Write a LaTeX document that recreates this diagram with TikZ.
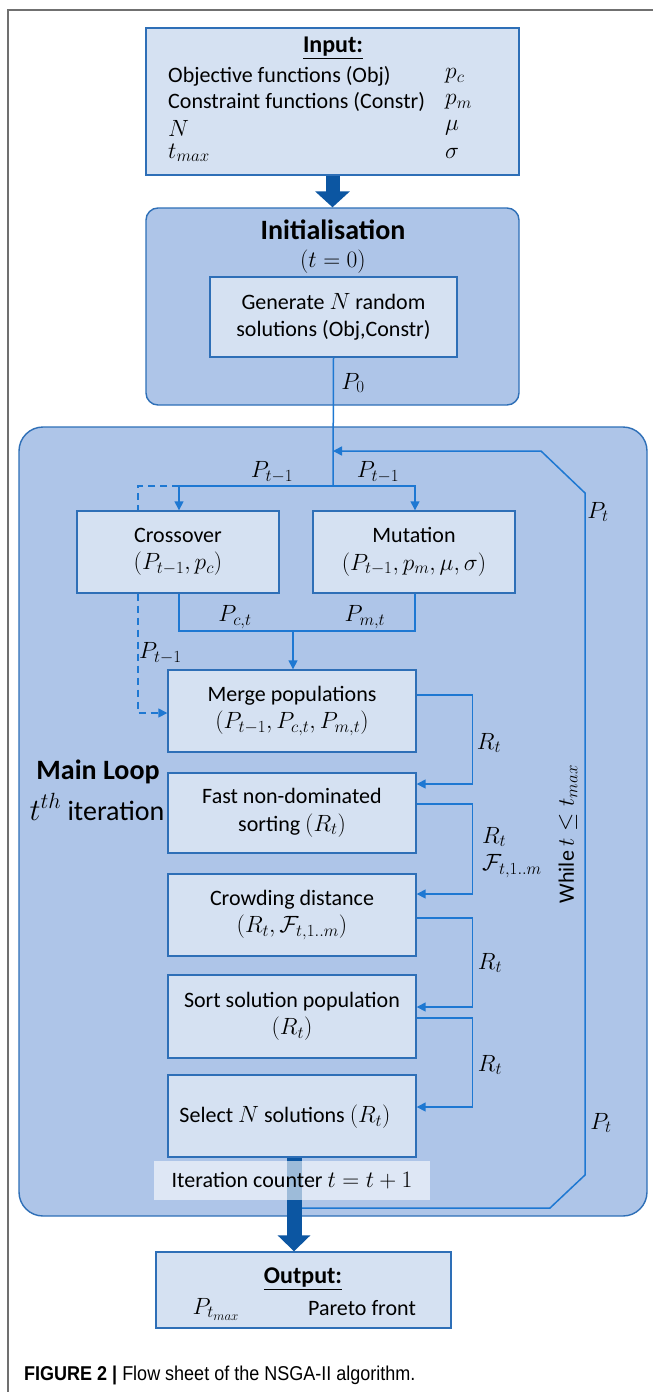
\RequirePackage{fix-cm}
\documentclass[tikz,border=0pt]{standalone}
\usepackage{fontspec}
\setmainfont{Carlito}
\newfontfamily\capfont[FakeStretch=0.9]{Liberation Sans}
\DeclareMathSizes{22}{23.5}{17}{13}
\DeclareMathSizes{28}{31}{22}{16}
\usetikzlibrary{arrows.meta}
\definecolor{outerfill}{HTML}{AEC5E8}
\definecolor{innerfill}{HTML}{D5E1F2}
\definecolor{boxline}{HTML}{2E6FB7}
\definecolor{conn}{HTML}{1E78D2}
\definecolor{thickc}{HTML}{0C56A2}
\definecolor{framegray}{HTML}{707070}
\tikzset{
  txt/.style={font=\fontsize{22}{27.5}\selectfont, inner sep=0pt, text=black},
  ttl/.style={font=\fontsize{28}{30}\selectfont\bfseries, inner sep=0pt},
  hdr/.style={font=\fontsize{24}{28}\selectfont\bfseries, inner sep=0pt},
  inbox/.style={draw=boxline, line width=1.4pt, fill=innerfill, rectangle, inner sep=0pt,
     font=\fontsize{22}{27.5}\selectfont, align=center},
  outerbox/.style={draw=boxline, line width=1.4pt, fill=outerfill, rectangle, inner sep=0pt},
  flowline/.style={draw=conn, line width=1.5pt},
  flow/.style={flowline, -{Triangle[length=9pt,width=9pt]}},
  dflow/.style={flow, dash pattern=on 7pt off 5pt},
  dline/.style={flowline, dash pattern=on 7pt off 5pt},
  bigarrow/.style={draw=thickc, line width=14pt, -{Triangle[length=16pt,width=34pt]}},
}
\begin{document}
\begin{tikzpicture}[x=1pt,y=-1pt]
\useasboundingbox (0,0) rectangle (653,1392);
\fill[white] (0,0) rectangle (653,1392);
% frame
\draw[framegray, line width=1.5pt] (653,10) -- (8,10) -- (8,1392);

% input box
\node[inbox, minimum width=373pt, minimum height=147pt] (input) at (332.5,101.5) {};
\node[hdr] (inputttl) at (333,48) {\underline{Input:}};
\node[txt, anchor=west] (in1) at (168,76) {Objective functions (Obj)};
\node[txt, anchor=west] (in2) at (168,102) {Constraint functions (Constr)};
\node[txt, anchor=west] (in3) at (168,128) {$N$};
\node[txt, anchor=west] (in4) at (168,153) {$t_{max}$};
\node[txt, anchor=west] (ir1) at (445,76) {$p_c$};
\node[txt, anchor=west] (ir2) at (445,102) {$p_m$};
\node[txt, anchor=west] (ir3) at (445,128) {$\mu$};
\node[txt, anchor=west] (ir4) at (445,153) {$\sigma$};

% initialisation
\node[outerbox, rounded corners=12pt, minimum width=373pt, minimum height=197pt] (init) at (332.5,306.5) {};
\draw[bigarrow] (input.south) -- (init.north);
\node[ttl] (initttl) at (333,230) {Initialisation};
\node[txt] (initt) at (333,262) {$(t=0)$};
\node[inbox, minimum width=247pt, minimum height=80pt] (gen) at (333.5,317) {Generate $N$ random\\solutions (Obj,Constr)};

% main loop
\node[outerbox, rounded corners=24pt, minimum width=628pt, minimum height=789pt] (loop) at (333,821.5) {};
\node[ttl] (mainttl) at (98,772) {Main Loop};
\node[txt, font=\fontsize{28}{30}\selectfont] (mainsub) at (97,807) {$t^{th}$ iteration};

% thick output arrow (under iteration label)
\node[inbox, minimum width=295pt, minimum height=76pt] (output) at (303.5,1290) {};
\coordinate (selbot) at (294,1157);
\draw[bigarrow, line width=15pt, -{Triangle[length=16pt,width=32pt]}] (selbot) -- (selbot |- output.north);

\node[inbox, minimum width=202pt, minimum height=82pt] (cross) at (178,552) {Crossover\\$(P_{t-1},p_c)$};
\node[inbox, minimum width=202pt, minimum height=82pt] (mut) at (414,552) {Mutation\\$(P_{t-1},p_m,\mu,\sigma)$};
\node[inbox, minimum width=248pt, minimum height=82pt] (merge) at (292,711) {Merge populations\\$(P_{t-1},P_{c,t},P_{m,t})$};
\node[inbox, minimum width=248pt, minimum height=80pt] (fast) at (292,813) {Fast non-dominated\\sorting $(R_t)$};
\node[inbox, minimum width=248pt, minimum height=82pt] (crowd) at (292,915) {Crowding distance\\$(R_t,\mathcal{F}_{t,1..m})$};
\node[inbox, minimum width=248pt, minimum height=83pt] (sort) at (292,1016.5) {Sort solution population\\$(R_t)$};
\node[inbox, minimum width=248pt, minimum height=82pt] (select) at (292,1116) {};
\node[txt] (selecttxt) at (285,1117) {Select $N$ solutions $(R_t)$};

% iteration counter
\node[txt, fill=white, fill opacity=0.6, text opacity=1, minimum width=276pt, minimum height=39pt] (iter) at (292,1180.5) {Iteration counter $t=t+1$};

% output content
\node[hdr] (outttl) at (303,1279) {\underline{Output:}};
\node[txt] (outp) at (216,1309) {$P_{t_{max}}$};
\node[txt] (outpf) at (362,1308) {Pareto front};

% connectors
\coordinate (split) at (333,486);
\coordinate (fbin) at (333,451);
\coordinate (dx) at (138,486);
\draw[flowline] (gen.south) -- (split);
\draw[flow] (split) -| ([xshift=1pt]cross.north);
\draw[flow] (split) -| ([xshift=1pt]mut.north);
\draw[dline] ([xshift=1pt]cross.north |- split) -- (dx) -- (dx |- cross.north);
\draw[dflow] (dx |- cross.south) |- ([yshift=-2pt]merge.west);
\node[txt] (p0) at (353,383) {$P_0$};
\node[txt] (pl1) at (272,472) {$P_{t-1}$};
\node[txt] (pl2) at (378,472) {$P_{t-1}$};
\node[txt, anchor=west] (pl3) at (139,653) {$P_{t-1}$};

\coordinate (join) at (293,631);
\draw[flowline] ([xshift=1pt]cross.south) |- (join) -| ([xshift=1pt]mut.south);
\draw[flow] (join) -- (join |- merge.north);
\node[txt] (pct) at (235,617) {$P_{c,t}$};
\node[txt] (pmt) at (365,617) {$P_{m,t}$};

\draw[flow] ([yshift=16pt]merge.east) -- ++(56,0) |- ([yshift=29pt]fast.east);
\draw[flow] ([yshift=9pt]fast.east) -- ++(56,0) |- ([yshift=21pt]crowd.east);
\draw[flow] ([yshift=-3pt]crowd.east) -- ++(56,0) |- ([yshift=9.5pt]sort.east);
\draw[flow] ([yshift=-1.5pt]sort.east) -- ++(56,0) |- ([yshift=9pt]select.east);
\node[txt] (r1) at (489,743) {$R_t$};
\node[txt, anchor=west] (r2) at (482,837) {$R_t$};
\node[txt, anchor=west] (f2) at (482,866) {$\mathcal{F}_{t,1..m}$};
\node[txt] (r3) at (490,963) {$R_t$};
\node[txt] (r4) at (490,1065) {$R_t$};

% feedback loop
\coordinate (fb0) at (302,1208);
\draw[flow] (fb0) -- (550,1208) -- (585,1175) -- (585,493) -- (541,451) -- (fbin);
\node[txt] (pt1) at (598,512) {$P_t$};
\node[txt] (pt2) at (601,1123) {$P_t$};
\node[txt, rotate=90] (while) at (568,834) {While $t\leq t_{max}$};

% caption
\node[anchor=west, inner sep=0pt, font=\capfont\fontsize{20}{22}\selectfont] (cap) at (24,1375) {\textbf{FIGURE 2 |} Flow sheet of the NSGA-II algorithm.};
\end{tikzpicture}
\end{document}
